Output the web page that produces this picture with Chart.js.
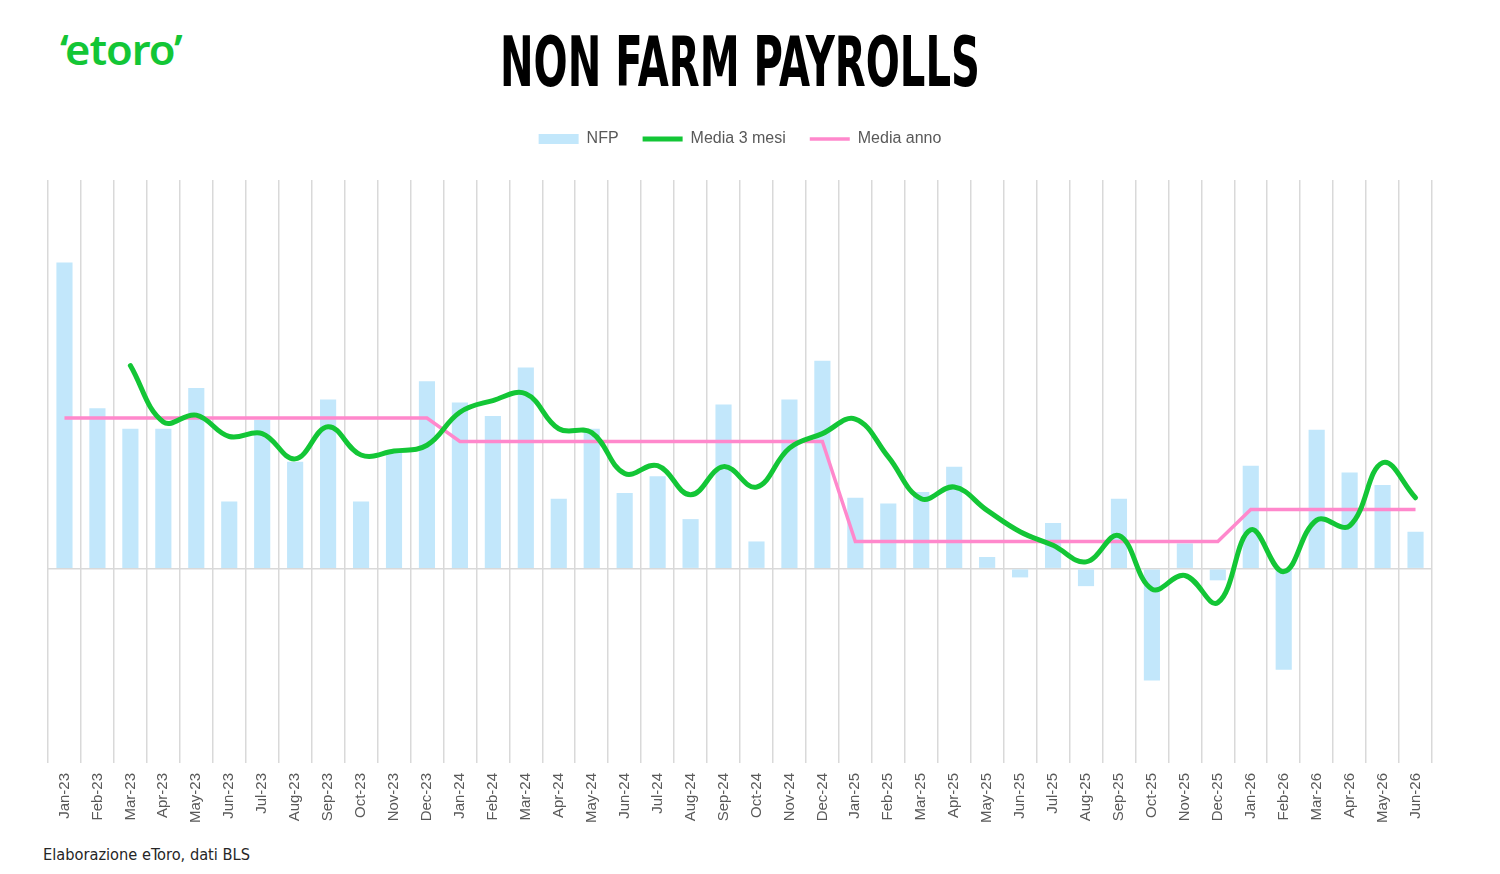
<!DOCTYPE html>
<html lang="it">
<head>
    <meta charset="UTF-8">
    <title>Non Farm Payrolls</title>
    <script src="https://cdn.jsdelivr.net/npm/chart.js"></script>
    <style>
        html, body { margin: 0; padding: 0; background: #fff; }
        body { width: 1500px; height: 874px; position: relative; overflow: hidden; }
        .logo {
            position: absolute; left: 60px; top: 20px;
            font-family: "Noto Sans", "Open Sans", sans-serif;
            font-weight: 600; font-size: 42px; color: #13c636; letter-spacing: -1px;
            transform-origin: left top;
        }
        .title {
            position: absolute; left: 500px; top: 28px; white-space: nowrap;
            font-family: "Liberation Sans Narrow", "DejaVu Sans Condensed", "Liberation Sans", sans-serif;
            font-weight: bold; font-size: 69px; line-height: 1; color: #000;
            transform-origin: left top;
        }
        .source {
            position: absolute; left: 43px; top: 845px; white-space: nowrap;
            font-family: "Liberation Sans Narrow", "DejaVu Sans Condensed", "Liberation Sans", sans-serif;
            font-size: 16px; color: #262626; transform-origin: left top;
        }
        .chart-box { position: absolute; left: 0; top: 107px; width: 1500px; height: 726px; }
    </style>
</head>
<body>
    <div class="logo" id="logo">‘etoro’</div>
    <div class="title" id="title">NON FARM PAYROLLS</div>
    <div class="source" id="source">Elaborazione eToro, dati BLS</div>
    <div class="chart-box"><canvas id="nfpChart"></canvas></div>

    <script>
        // mesi
        const months = [
            'Jan-23', 'Feb-23', 'Mar-23', 'Apr-23', 'May-23', 'Jun-23', 'Jul-23', 'Aug-23', 'Sep-23', 'Oct-23', 'Nov-23', 'Dec-23',
            'Jan-24', 'Feb-24', 'Mar-24', 'Apr-24', 'May-24', 'Jun-24', 'Jul-24', 'Aug-24', 'Sep-24', 'Oct-24', 'Nov-24', 'Dec-24',
            'Jan-25', 'Feb-25', 'Mar-25', 'Apr-25', 'May-25', 'Jun-25', 'Jul-25', 'Aug-25', 'Sep-25', 'Oct-25', 'Nov-25', 'Dec-25',
            'Jan-26', 'Feb-26', 'Mar-26', 'Apr-26', 'May-26', 'Jun-26'
        ];

        // NFP mensili (migliaia)
        const nfp = [
            315, 165, 144, 144, 186, 69, 153, 110, 174, 69, 119, 193,
            171, 157, 207, 72, 144, 78, 95, 51, 169, 28, 174, 214,
            73, 67, 79, 105, 12, -9, 47, -18, 72, -115, 26, -12,
            106, -104, 143, 99, 86, 38
        ];

        // media mobile 3 mesi
        const media3 = [
            null, null, 209, 151, 158, 136, 139, 113, 146, 117, 121, 127,
            161, 173, 180, 144, 140, 98, 106, 76, 105, 84, 124, 139,
            154, 115, 72, 84, 60, 38, 24, 7, 34, -21, -7, -35,
            40, -3, 50, 44, 109, 73
        ];

        // media dell'anno
        const mediaAnno = [
            155, 155, 155, 155, 155, 155, 155, 155, 155, 155, 155, 155,
            131, 131, 131, 131, 131, 131, 131, 131, 131, 131, 131, 131,
            28, 28, 28, 28, 28, 28, 28, 28, 28, 28, 28, 28,
            61, 61, 61, 61, 61, 61
        ];

        const yMin = -200;
        const yMax = 400;

        function fitWidth(id, w) {
            const el = document.getElementById(id);
            el.style.transform = 'scaleX(' + (w / el.offsetWidth) + ')';
        }
        fitWidth('title', 480);
        fitWidth('source', 207);
        fitWidth('logo', 122);

        const legendGap = {
            id: 'legendGap',
            beforeInit(chart) {
                const fitValue = chart.legend.fit;
                chart.legend.fit = function () {
                    fitValue.bind(chart.legend)();
                    this.height = 73;
                };
            }
        };

        new Chart(document.getElementById('nfpChart'), {
            data: {
                labels: months,
                datasets: [
                    {
                        type: 'bar',
                        label: 'NFP',
                        data: nfp,
                        backgroundColor: '#c2e7fb',
                        borderWidth: 0,
                        barPercentage: 0.49,
                        categoryPercentage: 1,
                        order: 3
                    },
                    {
                        type: 'line',
                        label: 'Media 3 mesi',
                        data: media3,
                        borderColor: '#13c636',
                        backgroundColor: '#13c636',
                        borderWidth: 5,
                        tension: 0.4,
                        pointRadius: 0,
                        borderCapStyle: 'round',
                        order: 1
                    },
                    {
                        type: 'line',
                        label: 'Media anno',
                        data: mediaAnno,
                        borderColor: '#ff88cc',
                        backgroundColor: '#ff88cc',
                        borderWidth: 3.5,
                        tension: 0,
                        pointRadius: 0,
                        order: 2
                    }
                ]
            },
            options: {
                responsive: true,
                maintainAspectRatio: false,
                animation: false,
                layout: { padding: { left: 48, right: 68, top: 0, bottom: 0 } },
                plugins: {
                    tooltip: { enabled: false },
                    legend: {
                        position: 'top',
                        labels: {
                            usePointStyle: true,
                            pointStyleWidth: 40,
                            boxHeight: 10,
                            padding: 24,
                            color: '#595959',
                            font: { family: 'Liberation Sans, Arial, sans-serif', size: 16 },
                            generateLabels: chart => chart.data.datasets.map((ds, i) => ({
                                text: ds.label,
                                fillStyle: ds.backgroundColor,
                                strokeStyle: ds.type === 'line' ? ds.borderColor : ds.backgroundColor,
                                lineWidth: ds.type === 'line' ? ds.borderWidth : 0,
                                pointStyle: ds.type === 'line' ? 'line' : 'rect',
                                fontColor: '#595959',
                                hidden: false,
                                datasetIndex: i
                            }))
                        }
                    }
                },
                scales: {
                    x: {
                        grid: { color: '#d9d9d9', lineWidth: 1.5, drawTicks: false, offset: true },
                        border: { display: false },
                        ticks: {
                            minRotation: 90,
                            maxRotation: 90,
                            autoSkip: false,
                            padding: 10,
                            color: '#595959',
                            font: { family: 'Liberation Sans, Arial, sans-serif', size: 15 }
                        },
                        afterFit: scale => { scale.height = 70; }
                    },
                    y: {
                        min: yMin,
                        max: yMax,
                        ticks: { display: false, stepSize: 100 },
                        border: { display: false },
                        grid: {
                            drawTicks: false,
                            lineWidth: 1.5,
                            color: ctx => ctx.tick && ctx.tick.value === 0 ? '#d9d9d9' : 'rgba(0,0,0,0)'
                        },
                        afterFit: scale => { scale.width = 0; }
                    }
                }
            },
            plugins: [legendGap]
        });
    </script>
</body>
</html>
